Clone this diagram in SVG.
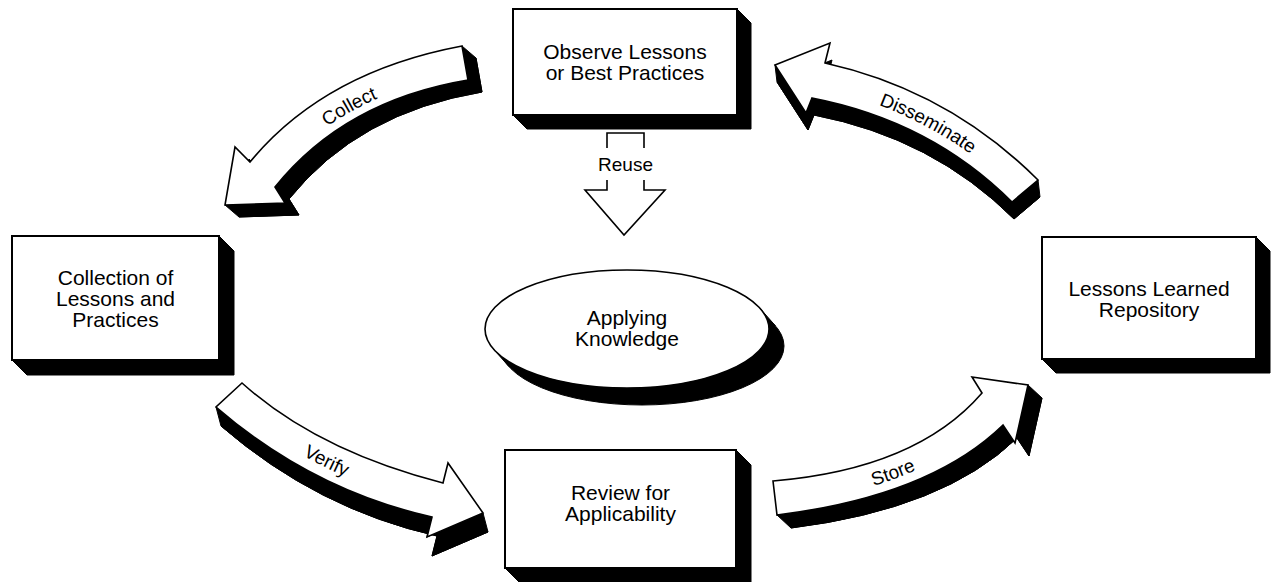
<svg xmlns="http://www.w3.org/2000/svg" width="1272" height="582" viewBox="0 0 1272 582">
<style>
  .box { fill:#fff; stroke:#000; stroke-width:2; }
  .shadow { fill:#000; stroke:#000; stroke-width:1; stroke-linejoin:miter; }
  .arrow { fill:#fff; stroke:#000; stroke-width:1.6; stroke-linejoin:miter; }
  .txt { font-family:"Liberation Sans", Arial, Helvetica, sans-serif; font-size:21px; fill:#000; text-anchor:middle; }
  .lbl { font-family:"Liberation Sans", Arial, Helvetica, sans-serif; font-size:19px; fill:#000; }
  .line { fill:none; stroke:#000; stroke-width:1.6; stroke-linejoin:miter; }
</style>
<defs>
  <path id="collectShape" d="M462,46 Q324,72 250,162 L235,147 L225,205 L285,203 L275,187 Q344.5,100.5 468,80 Z"/>
  <path id="dissShape" d="M775,65 L830,43 L825,63 Q948.5,90.5 1038,180 L1012,202 Q931,121 812,98 L806,113 Z"/>
  <path id="verifyShape" d="M242,383 Q317.6,451 443,483 L448,463 L483,513 L427,537 L432,517 Q312,490 216,407 Z"/>
  <path id="storeShape" d="M773,481 Q916.5,469 982,393 L972,377 L1028,385 L1015,443 L1003,425 Q930,496 777,515 Z"/>
  <ellipse id="ellShape" cx="627" cy="329" rx="142" ry="59"/>
  <path id="collectText" d="M267,182 Q339,94 470,71"/>
  <path id="dissText" d="M815,86.5 Q936,112 1021,197"/>
  <path id="verifyText" d="M226,401 Q312,477 435,506"/>
  <path id="storeText" d="M778,504 Q926,489 995.5,415"/>
</defs>

<g id="connectors">
  <g id="arrow-collect">
    <g class="shadow">
      <use href="#collectShape" transform="translate(14,12)"/>
      <path d="M462,46 L476,58 L482,92 Q358.5,112.5 289,199 L299,215 L239,217 L225,205 L285,203 L275,187 Q344.5,100.5 468,80 Z"/>
    </g>
    <use href="#collectShape" class="arrow"/>
    <text class="lbl"><textPath href="#collectText" startOffset="47%" text-anchor="middle">Collect</textPath></text>
  </g>
  <g id="arrow-disseminate">
    <g class="shadow">
      <use href="#dissShape" transform="translate(2,17)"/>
      <path d="M775,65 L777,82 L808,130 L814,115 Q933,138 1014,219 L1040,197 L1038,180 L1012,202 Q931,121 812,98 L806,113 Z"/>
    </g>
    <use href="#dissShape" class="arrow"/>
    <text class="lbl"><textPath href="#dissText" startOffset="50%" text-anchor="middle">Disseminate</textPath></text>
  </g>
  <g id="arrow-verify">
    <g class="shadow">
      <use href="#verifyShape" transform="translate(5,19)"/>
      <path d="M216,407 L221,426 Q317,509 437,536 L432,556 L488,532 L483,513 L427,537 L432,517 Q312,490 216,407 Z"/>
    </g>
    <use href="#verifyShape" class="arrow"/>
    <text class="lbl"><textPath href="#verifyText" startOffset="50%" text-anchor="middle">Verify</textPath></text>
  </g>
  <g id="arrow-store">
    <g class="shadow">
      <use href="#storeShape" transform="translate(14,13)"/>
      <path d="M777,515 L791,528 Q944,509 1017,438 L1029,456 L1042,398 L1028,385 L1015,443 L1003,425 Q930,496 777,515 Z"/>
    </g>
    <use href="#storeShape" class="arrow"/>
    <text class="lbl"><textPath href="#storeText" startOffset="50%" text-anchor="middle">Store</textPath></text>
  </g>
  <g id="arrow-reuse">
    <path class="line" d="M607,148 V133 H644 V148"/>
    <path class="line" d="M607,180 V190 H585 L624,235 L665,190 H644 V180"/>
    <text class="lbl" x="625.5" y="171" text-anchor="middle">Reuse</text>
  </g>
</g>

<g id="node-observe">
  <polygon class="shadow" points="737,9 751,23 751,129 527,129 513,115"/>
  <rect class="box" x="513" y="9" width="224" height="106"/>
  <text class="txt" x="625" y="59">Observe Lessons</text>
  <text class="txt" x="625" y="80">or Best Practices</text>
</g>

<g id="node-collection">
  <polygon class="shadow" points="219,236 234,251 234,375 27,375 12,360"/>
  <rect class="box" x="12" y="236" width="207" height="124"/>
  <text class="txt" x="115.5" y="284.5">Collection of</text>
  <text class="txt" x="115.5" y="305.5">Lessons and</text>
  <text class="txt" x="115.5" y="326.5">Practices</text>
</g>

<g id="node-repository">
  <polygon class="shadow" points="1256,237 1270,251 1270,373 1056,373 1042,359"/>
  <rect class="box" x="1042" y="237" width="214" height="122"/>
  <text class="txt" x="1149" y="295.5">Lessons Learned</text>
  <text class="txt" x="1149" y="316.5">Repository</text>
</g>

<g id="node-review">
  <polygon class="shadow" points="736,450 751,465 751,583 520,583 505,568"/>
  <rect class="box" x="505" y="450" width="231" height="118"/>
  <text class="txt" x="620.5" y="500">Review for</text>
  <text class="txt" x="620.5" y="521">Applicability</text>
</g>

<g id="node-applying">
  <g class="shadow">
    <use href="#ellShape" transform="translate(15,17)"/>
    <polygon points="760.3,308.7 775.3,325.7 508.7,366.3 493.7,349.3"/>
  </g>
  <use href="#ellShape" class="arrow"/>
  <text class="txt" x="627" y="325">Applying</text>
  <text class="txt" x="627" y="346">Knowledge</text>
</g>
</svg>
